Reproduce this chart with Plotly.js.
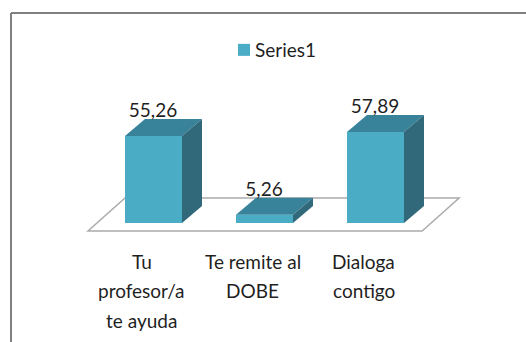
<!DOCTYPE html>
<html><head><meta charset="utf-8">
<script src="https://cdn.plot.ly/plotly-3.0.0.min.js"></script>
<style>html,body{margin:0;padding:0;background:#fff}#c{width:526px;height:342px}</style>
</head><body><div id="c"></div>
<script>
const categories = [0, 1, 2];
const categoryLines = [["Tu", "profesor/a", "te ayuda"], ["Te remite al", "DOBE"], ["Dialoga", "contigo"]];
const seriesName = "Series1";
const values = [55.26, 5.26, 57.89];
const valueLabels = ["55,26", "5,26", "57,89"];

const W = 526, H = 342, step = 111, unit = 1.574;
const x0 = 153.5, y0 = 223;
const xr = [(0 - x0) / step, (W - x0) / step];
const yr = [(y0 - H) / unit, y0 / unit];
const barW = 57 / step, dx = 20 / step, dy = 17 / unit;
const font = "Lato, sans-serif", ink = "#1f1f1f", fs = 19;

const traces = [{
  type: "bar", name: seriesName, x: categories, y: values, width: barW,
  marker: {color: "#4BACC6", line: {width: 0}}, hoverinfo: "skip", showlegend: true
}];
function face(xs, ys, color) {
  traces.push({type: "scatter", mode: "lines", x: xs, y: ys, fill: "toself", fillcolor: color,
    line: {width: 0, color: color}, hoverinfo: "skip", showlegend: false});
}
categories.forEach((c, i) => {
  const l = c - barW / 2, r = c + barW / 2, v = values[i];
  face([l, r, r + dx, l + dx, l], [v, v, v + dy, v + dy, v], "#38839A");
  face([r, r + dx, r + dx, r, r], [0, dy, v + dy, v, 0], "#31697B");
});
traces.push({
  type: "scatter", mode: "text", x: categories.map(c => c - 0.5 / step), y: values.map(v => v + 23.5 / unit), text: valueLabels,
  textposition: "middle center", textfont: {family: font, size: fs, color: ink},
  hoverinfo: "skip", showlegend: false, cliponaxis: false
});

const annotations = [];
categories.forEach((c, i) => categoryLines[i].forEach((t, j) => annotations.push({
  x: c - 12 / step, y: (y0 - (261 + 29.5 * j)) / unit, xref: "x", yref: "y", text: t, showarrow: false,
  xanchor: "center", yanchor: "middle", font: {family: font, size: fs, color: ink}
})));

// floor parallelogram, from category span
const fl = -0.59, fr = 2.42, fy = -8 / unit, fdx = 37 / step, fdy = 33 / unit;
const shapes = [
  {type: "path", layer: "below", xref: "x", yref: "y",
   path: `M${fl},${fy}L${fr},${fy}L${fr + fdx},${fy + fdy}L${fl + fdx},${fy + fdy}Z`,
   fillcolor: "#ffffff", line: {color: "#ababab", width: 1.5}},
  {type: "line", layer: "below", xref: "paper", yref: "paper", x0: 11 / W, x1: 11 / W, y0: 0, y1: 1 - 13 / H, line: {color: "#808080", width: 2}},
  {type: "line", layer: "below", xref: "paper", yref: "paper", x0: 11 / W, x1: 1, y0: 1 - 13 / H, y1: 1 - 13 / H, line: {color: "#808080", width: 2}}
];

Plotly.newPlot("c", traces, {
  width: W, height: H, margin: {l: 0, r: 0, t: 0, b: 0},
  paper_bgcolor: "#fff", plot_bgcolor: "#fff", barmode: "overlay",
  xaxis: {range: xr, visible: false, fixedrange: true},
  yaxis: {range: yr, visible: false, fixedrange: true},
  legend: {x: 224 / W, y: 1 - 50 / H, xanchor: "left", yanchor: "middle", bgcolor: "rgba(0,0,0,0)",
    font: {family: font, size: fs, color: ink}, itemclick: false},
  annotations, shapes
}, {displayModeBar: false, staticPlot: true}).then(() => {
  // legend text sits closer to its swatch in the reference
  const lt = document.querySelector(".legendtext");
  if (lt) lt.setAttribute("x", 31);
});
</script></body></html>
